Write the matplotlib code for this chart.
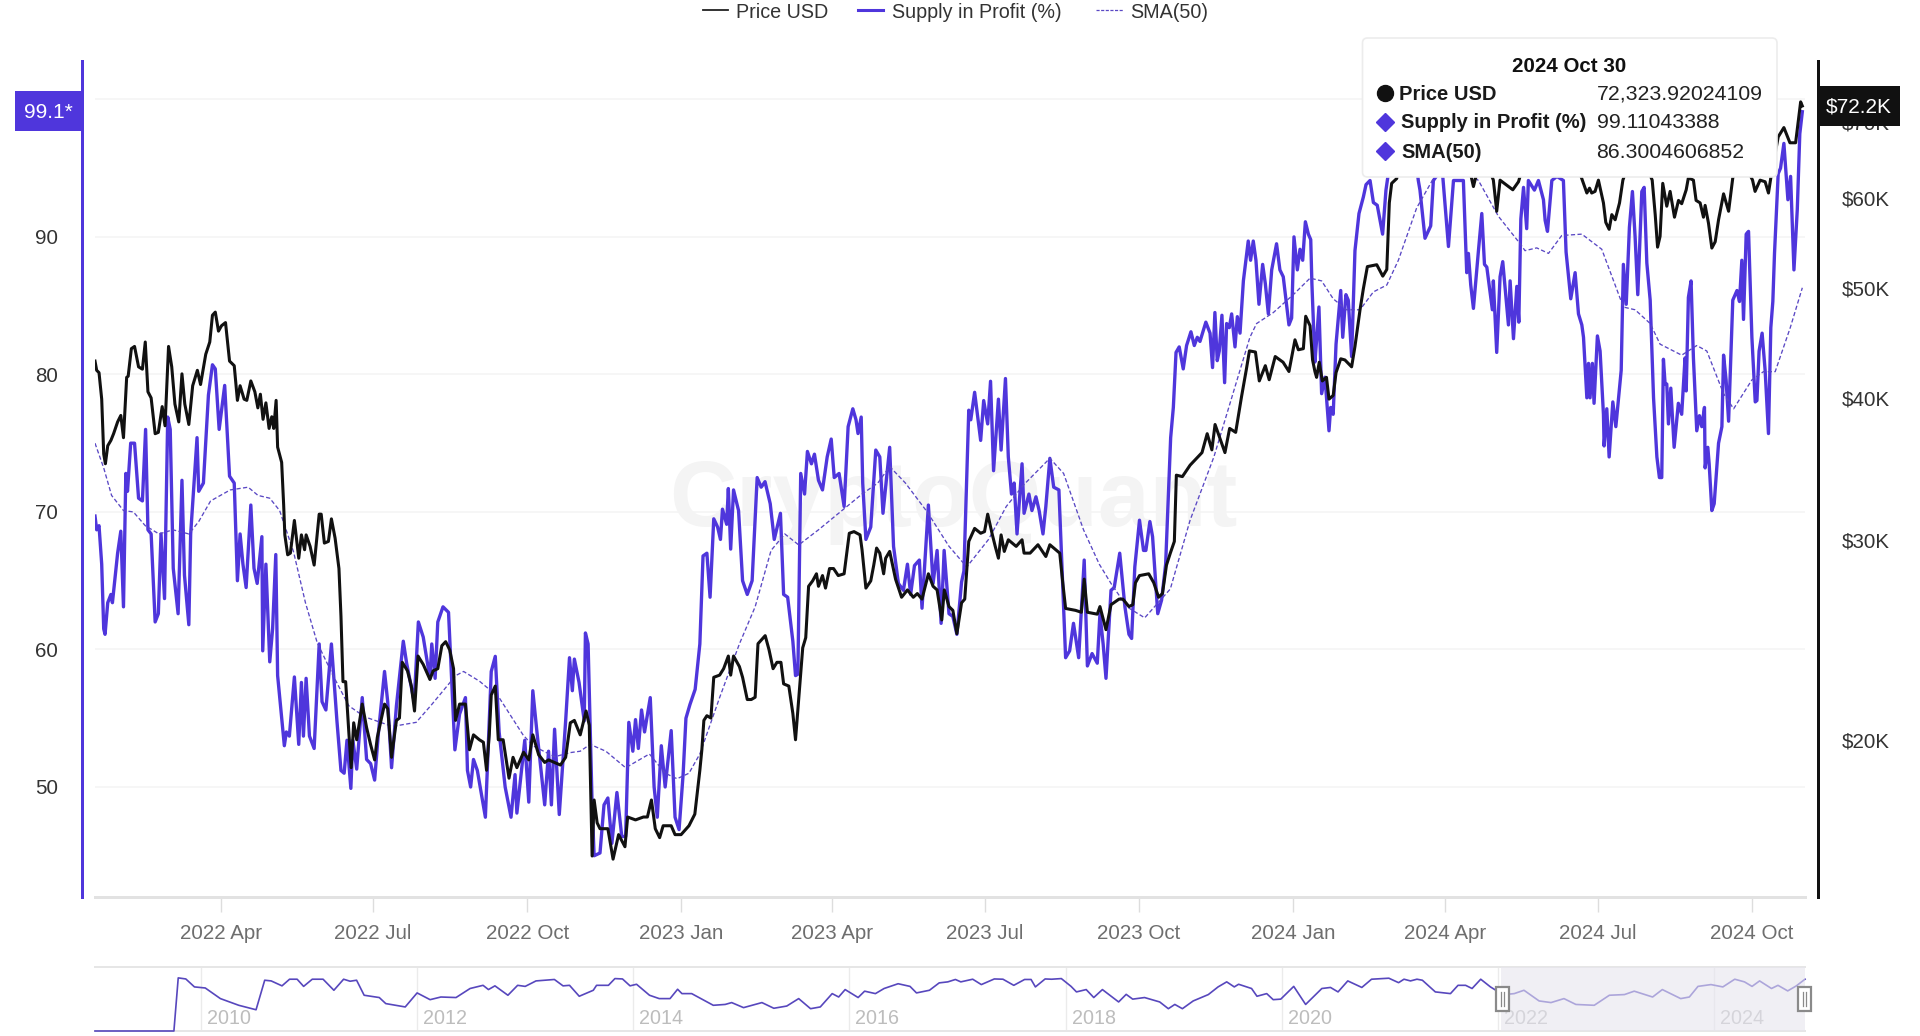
import numpy as np
import matplotlib
matplotlib.use('Agg')
import matplotlib.pyplot as plt
import matplotlib.dates as mdates
from matplotlib.lines import Line2D
from matplotlib.patches import FancyBboxPatch, Rectangle
from matplotlib.transforms import IdentityTransform

plt.rcParams['font.family'] = ['Liberation Sans', 'DejaVu Sans']

start_date = '2022-01-16'

profit_days = [0,1,2.4,4,5.2,6,7.6,9.5,10.4,13.5,15.4,17,18.4,19.4,21.3,23.6,26,28.3,30.2,31.6,33.5,35.9,37.8,39.4,41.5,43.4,44.9,46.7,49.6,51.9,53.4,56,57.1,60.9,61.9,64.7,67.7,70.1,71.8,74.1,77.4,80.3,83.1,85,86.6,88.3,90.2,93,94.9,96.8,99.6,100.1,102,104.3,106,107.9,109,113,114.2,116,119,121.6,123.2,124.4,126,128,130.8,133.8,135.5,137.8,141.1,144.4,146.8,148.7,150.4,152.7,153.9,156.2,159.5,162.1,164.5,166.9,169.2,172.8,174.7,177,179.9,184,186,190.5,193,195.9,199.9,201,203,204.6,207.7,211,214.8,217.6,221.1,222.3,224.2,225.9,228.2,233,236.5,238.9,241.2,244.8,248.3,250.7,251.8,256.5,258.9,261.3,263.6,268.4,270.7,272.4,274.3,277.1,280.9,283.2,284.9,286.1,288.9,292,292.7,294.3,296.7,297.9,301.4,303.8,306.1,308.5,311.5,314.4,316.7,318.6,321,322.6,324.3,326.2,328,331.4,333.7,335.6,338,340.3,343.9,346.2,348.6,351,352.7,355.1,358.2,361,362.9,365.2,367.1,369.3,371.6,373.3,374.5,377,378,379.4,381.1,384.1,386.5,389.3,392.2,395.2,397.6,399.9,403,405.4,409.1,411,413.4,416.5,418.1,419.5,421.2,423.5,425.2,427.6,429.4,431.8,434.2,437,439.4,441.2,444.1,447.1,449.5,452.3,454.2,455.4,457.3,458.2,460.1,463,466,468.4,470.3,474.3,476.6,479.5,482.5,484.9,486.8,489.1,492,493.6,497.4,500.2,502.6,505,506.8,509.7,512,514.4,517.2,518.6,521.5,522.7,525,528.6,530.4,532.8,534.5,536.3,539.2,540.8,543.4,545.1,547,548.6,550.3,553.3,554.5,557.4,559.2,561.6,563.5,565.8,567.5,569.9,572.2,575.3,579.3,581.7,584,587.1,590.4,592.3,595.1,598.2,599.8,601.7,603.4,606.4,608.3,611.6,614.7,617.1,618.7,620.6,623.4,625.8,627.2,629.6,631.2,634.3,636.6,639,642,643.6,645.2,647.1,649.5,651.5,654.1,656.1,657.9,659.5,663,665.5,667,668.4,669.8,671,672.6,674.2,675.4,677,678.4,680.4,681.8,683.4,685.4,688.3,689.7,691.3,692.9,694.7,696.9,698.5,700.3,702.3,705.2,707.2,709.2,712.6,714.2,715.6,717.6,719.2,720.8,722.4,724.2,725.6,726.3,728.1,729.1,730.5,732.1,734.1,736.5,737.5,739,740.7,743.5,744.7,746.6,748,750,752,754.4,757,758.6,761,763,765.3,768.5,770.5,771.9,780,786,789.8,790.8,793.8,797.2,798.8,804,807.8,810.8,816.7,818.7,819.7,821.1,822.7,825.7,827.7,829.3,830.7,832.7,834,834.6,836.6,838.6,840.2,843.6,844.6,846.6,848.6,849.8,851,852.6,854.5,855.5,859.1,861.5,864.5,865.5,866.9,869.5,872.5,876.4,878,880.8,883.4,885.4,887.4,888.4,890.4,891.4,892.3,893.7,894.7,896.7,898.3,900.3,900.7,902.3,903.7,905.9,907.7,910.9,912.2,913.9,915.8,917.6,919.2,920.8,923.2,924.6,926.2,928.2,930.2,932.2,933.7,935.1,936.1,937.1,938.1,939.1,940.5,942.5,945,947,949,949.7,951,952.6,954,956,957.6,959,960.6,961,962.6,963.4,965,966.4,969,971,972,973.5,975,977.5,980,981.5,982.9,983.9,985.5,986.9,988.9,990.9,991.9,993.2,995,996.8,998.8,1000.2,1001.4,1002.4,1004.6,1006,1008,1010.4,1012,1014,1016,1017.5,1019]
profit_vals = [69.7,68.7,69,66.2,61.5,61.1,63.4,64,63.4,67,68.6,63.1,72.8,71.5,75,75,71,70.8,76,68.7,68.4,62,62.6,68.4,63.7,76.9,76,65.9,62.6,72.3,65.4,61.8,68.4,75.4,71.5,72.1,78.5,80.7,80.4,76,79.2,72.6,72.1,65,68.4,66.2,64.5,70.5,65.9,64.8,68.2,59.9,66.2,59.1,61.5,66.9,58.1,53,54,53.7,58,53.1,57.6,53.7,57.9,53.7,52.8,60.4,56.2,55.6,60.4,54.8,51.2,51,53.4,49.9,53.4,51.3,56.5,52,51.7,50.5,54,58.4,56.2,51.4,55.9,60.6,59,56.2,62,60.9,57.9,60.4,57.9,62,63.1,62.7,52.7,55.3,56.5,51.2,50,52,51.2,47.8,58.4,59.5,54,50,47.8,50.9,48.1,53.4,48.9,57,54.2,48.7,52.6,48.7,54.2,48,54.8,59.4,57,59.3,57.6,54.8,61.2,60.4,48.7,45,45.2,48.7,49.2,45.9,49.6,46.4,46.4,54.7,52.6,54.9,52.8,55.6,54,56.5,50,47.8,53,50,54.1,47.8,46.9,50.9,55,56,57.1,60.4,66.8,67,63.8,69.5,68.9,68,70.2,69.1,71.7,67.3,71.6,70.1,65,64,65,72.5,71.8,72.2,70.6,68,69.9,64,63.8,60.6,58.1,58.2,72.8,71.3,74.4,73.5,74.2,72.3,71.6,74,75.3,72.5,72.8,70.4,76.2,77.5,76.7,75.7,76.9,72.1,68,68.9,74.5,74,69.9,74.7,67.5,64.8,64.3,66.2,64,66.1,66.5,63,70.5,64.8,67.2,61.9,67.2,62.6,62.4,61.1,64.9,65.7,77.4,76.7,78.7,75.2,78.1,76.4,79.5,73,78.2,74.5,79.7,74,71.3,72.1,68.4,73.5,69.9,71.3,70.1,71.1,70.1,68.4,70.4,73.9,71.8,71.6,59.4,59.9,61.9,59.4,66.5,58.8,59.7,59,62.6,60.4,57.9,64.3,64.5,67,63.1,61.1,60.8,66,69.4,67.2,67.2,69.3,68.2,62.6,63.6,66.2,75.4,77.6,81.6,82,80.4,82.1,83.1,82.1,82.7,82.4,83.8,83,80.5,84.5,81,81.7,84.3,79.4,83.7,83.4,84.4,82,84.2,83,86.8,89.7,88.3,89.7,88.3,85.1,88,86.6,84.4,87.6,89.5,87.6,87.1,83.6,84.1,90,87.6,89.1,88.3,91.1,90.2,89.8,86.6,80.9,82.5,84.9,78.6,79.8,75.9,77.6,77.1,82.2,86.1,82.7,85.8,85.4,81.3,89,91.7,92.9,93.8,94.1,92.5,92.3,90.2,93.4,94.6,97,98,94.1,93.4,89.9,90.8,94.1,95,89.3,94.1,94.1,87.4,88.8,86.5,84.8,89,91.7,88,87.8,85.9,84.7,86.8,81.6,87.1,88.2,83.6,86.8,82.6,86.4,83.8,91.3,93.6,90.6,94.1,93.4,94.1,92.7,91.2,90.4,94.1,94.4,94.1,88.9,85.5,87.4,84.4,83.6,82.7,78.3,80.8,78.3,80.8,77.9,82.8,81.7,77.1,74.8,77.5,74,78,76.2,80.3,88,85.1,90.7,93.3,90,85.8,93.3,93.6,88.1,85.4,78.3,74,72.5,72.5,81.1,79.3,79.3,76.4,79,74.7,77.9,77.1,81.2,78.8,85.6,86.8,81.2,75.9,77,76.2,77.6,73.2,74.7,73.5,70.1,70.6,75,76.2,81.4,79.6,76.6,85.4,86.1,85.3,88.3,84,90.2,90.4,82.7,78,78.1,81.7,83,80.3,75.7,83.4,85.3,88.8,94.6,95,96.8,92.7,94.4,87.6,92,97.5,99.1]

price_days = [0,1,2.4,4,5.2,6.2,7.6,9.5,11.1,13.5,15.4,17,18.9,19.8,21.7,23.6,26,28.3,30,31.6,33.5,35.9,37.8,40.1,41.8,43.9,45.8,47.7,50,51.9,53.6,56,58.3,61.1,63,66.1,68.5,70.1,71.8,73.7,75.5,77.9,80.3,83.1,85,86.6,89,90.6,93,95.4,97.2,98.7,100.3,102,103.9,105.5,106.7,108.1,109,111.4,112.6,113.3,115,116.6,119,121.6,123.2,125.1,126,128.4,130.8,133.8,135,136.9,139.3,141.1,143.3,145.6,146.8,148,149.6,151.5,152.9,154.4,156.2,159.5,162.1,164.5,166.9,168.5,172.8,174.7,177,179.9,181.7,183.4,186.5,188.8,190.7,192.8,195.9,199.9,201.8,204.6,207,209.3,211.7,214,215.2,217.6,221.1,223.5,225.9,229.4,231.8,233.7,235.3,236.5,238.9,240.7,243.6,247.1,249.5,251.8,255.8,258.9,261.3,264.8,268.4,270.7,274.3,277.8,280.9,283.7,286.1,289.6,293.1,295,296.7,297.9,299.7,301.4,306.1,309.2,312.5,316.3,317.9,322.6,327.3,329.7,332.1,334.4,337,339.1,343.9,346.2,349.8,354.5,358,361,362.2,363.4,365.2,367.6,369.3,372.8,375.2,378,379.4,381.1,384.6,386.5,389.3,391.7,394,395.7,400,402.3,404.7,407,409.4,411,414.1,416.5,418.1,420,422.4,424.2,425.9,428.3,430.6,431.8,434.2,436,438.4,440.8,443.6,447.1,450.2,453,456.6,457.8,460.1,463,464.8,466.5,468.4,470.7,471.9,474.3,477.8,481.4,484.9,488.4,490.8,493.6,497.4,500.2,502.6,505.4,506.9,509.7,512,514.4,517.2,519.1,521.5,525,528.6,530.9,532.8,535.6,537.3,539.2,540.8,542.7,545.1,549.8,553.3,554.5,558.1,562.8,567.5,569.9,575.8,577.6,579.3,585.2,588.7,590.4,592.3,598.2,599.8,603.4,606.4,611.2,613.5,617.1,619.4,621,623.4,628.9,631.9,634.8,637.1,639.5,641.8,644.2,645.4,649,653.6,658.4,660.7,663.8,666.6,668.5,671.3,674.4,677.2,680.8,684.3,687.2,689,692.6,694.9,698.5,700.8,704.4,709.1,712.6,716.2,718.2,721.2,722.6,725.2,726.7,728.1,729.1,730.7,732.5,735,736.5,739,740.7,743.5,746,750,752,755,757,759.4,765,768.6,771,772.5,773.9,776.9,780,787,795,805,815,822.7,828,834.6,836.6,838.6,843.6,846.2,849.6,855,870,880,890.4,892,893.3,895.3,897.3,900.3,901.7,903.7,905.3,907.3,909.9,911.9,918,924,929.4,931.2,932.6,934.1,935.7,938.1,940.1,942.7,945.1,947,949.7,951,954,955.6,958,960,961,963,965,967,969,972,975,977.5,983,989.3,990.8,993.8,996.8,998.8,1000.2,1004.6,1008,1011.6,1015,1018,1019]
price_usd_k = [43.1,42.3,42.1,39.9,35.7,35,36.3,36.7,37.2,38.1,38.6,36.9,41.7,41.8,44.2,44.4,42.6,42.4,44.8,40.5,40,37.2,37.3,39.3,37.8,44.4,42.6,39.5,38.1,42,39.5,37.9,41,42.3,41.1,43.7,44.8,47.3,47.6,45.8,46.3,46.6,43.1,42.7,39.8,41,39.9,39.8,41.4,40.5,39.2,40.3,38.3,39.6,37.6,38.5,37.6,39.8,36.2,35.1,32.2,30.3,29.1,29.2,31.2,28.9,30.3,29.4,30.3,29.6,28.5,31.6,31.6,29.8,29.9,31.3,30.1,28.3,25.7,22.5,22.5,20.3,18.9,20.7,20,21.5,20.5,19.8,19.2,20.1,21.5,21.3,19.3,20.8,20.9,23.4,23,22.3,21.2,23.7,23.3,22.6,23,23.1,24.2,24.4,24,23.1,20.8,21.5,21.5,19.6,20.2,20,19.9,18.8,20.2,21.9,22.3,20,20,18.5,19.3,18.9,19.5,19.2,20.2,19.4,19.1,19.2,19.1,19,19.3,20.7,20.8,20.2,21.2,20.6,15.8,17.7,16.9,16.7,16.7,15.7,16.5,16.1,17.1,17,17.1,17.1,17.7,16.7,16.4,16.8,16.8,16.5,16.5,16.8,17.2,18.8,19.6,20.8,21,20.9,22.7,22.8,23.1,23.7,22.8,23.7,23.2,22.7,21.7,21.7,21.8,24.3,24.7,24,23.1,23.4,23.4,22.4,22.3,21.1,20,21.7,24.1,24.6,27.3,27.6,28,27.3,27.9,27.2,28.3,28.3,27.9,28,30.4,30.5,30.3,29.4,27.2,27.6,28.5,29.5,29.2,28,28.9,29.3,27.7,26.7,27.1,26.7,26.9,26.6,28,27.3,27.1,25.5,27.1,26.2,26,24.8,26.4,26.6,29.9,30.7,30.4,30.5,31.6,30.3,29.6,28.9,30.3,29.3,30,29.6,30,29.2,29.2,29.7,29,29.7,29.2,27.5,26.1,26,25.9,27.7,25.9,25.8,26.2,25,26.3,26.6,26.6,26.2,26.3,27.5,27.9,28,27.5,26.7,26.9,28.5,29.2,29.9,34.2,34.1,34.9,35.5,35.8,37.2,36,37.9,36.9,35.8,37.6,37.3,40.1,42.4,44,43.9,41.4,42.7,41.5,43.5,43,42.2,45,44.1,44.2,47.2,46.3,43.2,42.2,41.7,43,41.4,41.7,39.9,40.2,42.1,43.3,43.2,42.6,44.4,47.8,49.9,52.2,52.4,51.2,51.9,59.4,61.8,62.4,66,72,66,70,69,61.4,66,62.2,58.4,62.2,61.4,61,62,66,69,67,60.6,61.2,60.6,60.8,62.2,59.4,57.1,56.3,58,57.4,59.4,62.2,66,65,62.2,58,54.3,55.5,61.8,59,60.8,57.7,59.7,59.3,61,62.5,62.2,59.7,59.4,57.7,59.1,57,54.2,54.9,57.4,60.5,58.4,62.5,65,62.2,60.8,62.2,62,60.6,62.5,67.9,69.2,67.1,67.1,72.9,72.3]

sma_days = [0,5.2,9.9,17,22.9,30,38.2,46.5,56,61.9,69,80.7,91.4,97.3,104.3,110.2,118.5,125.6,132.6,142.1,151.5,161,177.5,191.7,201,215.3,220,229.4,241.2,255.4,261.3,274.3,283.7,289.6,295.5,304.9,316.7,330.9,340.3,347.4,354.5,361,372.8,384.6,394,403.5,411.7,420,431.8,444.8,457.8,467.2,474.3,483.7,496.7,509.7,520.3,533.3,543.9,554.5,569.9,578.1,590,599.4,606.4,615.9,626.5,641.8,653.6,667.8,680.4,689.3,693.3,703.3,715.2,725.2,732.1,739,747,755,763,771,777.9,788.8,800,812,825.7,837.6,850.6,853.5,860.5,867.5,875.4,887.4,899.3,912.2,919.2,928.2,934.1,947,956,962,972,978,988.9,995.8,1002.8,1011.8,1019]
sma_vals = [75,73.2,71.2,70.1,70,69,68.4,68.7,68.4,69.3,70.8,71.6,71.8,71.2,71,70.1,67.1,63.4,60.5,58.1,55.9,55.1,54.4,54.7,56,58.1,58.4,57.7,56.5,53.8,53,52.2,52.5,52.6,53.1,52.6,51.4,52.4,51,50.6,51,52.4,56.5,60.4,63.1,67.2,68.4,67.6,68.7,70,71.3,72.1,73.3,72.1,70,67.5,66,68,70.4,72,73.9,72.8,68.7,66.2,64.8,63.1,62.3,64.4,69.4,74,79.1,82.7,83.7,84.5,85.8,87,86.8,85.5,84.7,84.7,86,86.5,88.3,92.1,94.5,95.5,94.1,91.5,89.5,89,89.2,88.8,90.1,90.2,89.1,84.9,84.7,83.7,82.2,81.4,82.1,81.7,78.6,77.5,79.6,80.2,80.2,83.4,86.3]

# overview strip, full history
nav_years = [2009.02,2009.75,2009.79,2009.86,2009.94,2010.04,2010.18,2010.35,2010.51,2010.59,2010.65,2010.75,2010.82,2010.89,2010.95,2011.03,2011.13,2011.23,2011.32,2011.38,2011.44,2011.51,2011.65,2011.71,2011.89,2012,2012.12,2012.22,2012.36,2012.49,2012.61,2012.66,2012.72,2012.84,2012.93,2013,2013.1,2013.27,2013.35,2013.41,2013.5,2013.63,2013.66,2013.77,2013.83,2013.9,2013.97,2014.03,2014.15,2014.24,2014.34,2014.41,2014.45,2014.54,2014.74,2014.85,2014.91,2015.02,2015.19,2015.3,2015.42,2015.53,2015.64,2015.73,2015.84,2015.9,2015.96,2016.08,2016.14,2016.24,2016.32,2016.45,2016.56,2016.62,2016.74,2016.83,2016.91,2016.98,2017.03,2017.14,2017.22,2017.34,2017.42,2017.52,2017.62,2017.68,2017.72,2017.81,2017.87,2017.96,2018.05,2018.1,2018.19,2018.26,2018.34,2018.49,2018.56,2018.62,2018.73,2018.87,2018.95,2019.01,2019.08,2019.18,2019.32,2019.41,2019.49,2019.56,2019.6,2019.72,2019.77,2019.86,2019.92,2019.99,2020.11,2020.22,2020.37,2020.45,2020.52,2020.61,2020.74,2020.83,2020.99,2021.08,2021.13,2021.19,2021.25,2021.3,2021.42,2021.56,2021.63,2021.7,2021.76,2021.84,2021.93,2021.98,2022.08,2022.15,2022.24,2022.38,2022.49,2022.61,2022.72,2022.89,2023.03,2023.17,2023.26,2023.43,2023.52,2023.69,2023.77,2023.85,2023.97,2024.08,2024.19,2024.28,2024.35,2024.42,2024.53,2024.59,2024.68,2024.76,2024.84]
nav_vals = [0,0,100,98,83,81,61,48.4,40,95.6,94.3,85,97.5,97.5,84,97.5,97.5,76.7,97.5,93.7,95.6,67.3,63,51.6,45.3,71.7,59,64,63,80,86,78,85,67.3,86,84,94.3,97,85,86,65.4,76.7,86,86,98.7,98,85,88,67.3,61,61,78.6,70.4,70.4,48.4,50,53.5,44,53.5,42.8,47,61,42,45.3,70.4,64,78,63,75,70.4,80,89,84,71.7,76.7,90.6,92.5,97,92.5,97.5,87.4,98,97.5,86,97,97,83,98,97.5,98.7,84,73.6,78,63,78,54.7,69,60,63,54.7,42,50,42,56.6,68.6,83,92.5,83,88,80,65.4,70.4,59,60,84,50,80,82,73.6,94.3,82,97.5,99.4,91,97.5,94.3,97.5,95.6,73.6,70.4,86,86,80,97.5,83,76.7,69,70.4,76.7,56.6,53.5,61,50,48.4,67.3,68.6,75,64,78,61,64,84,87.4,83,97.5,92.5,84,94.3,80,86,75.5,85,97.5]

date_ticks = ['2022-04-01','2022-07-01','2022-10-01','2023-01-01','2023-04-01','2023-07-01','2023-10-01','2024-01-01','2024-04-01','2024-07-01','2024-10-01']
date_labels = ['2022 Apr','2022 Jul','2022 Oct','2023 Jan','2023 Apr','2023 Jul','2023 Oct','2024 Jan','2024 Apr','2024 Jul','2024 Oct']
left_ticks = [50,60,70,80,90]
grid_levels = [50,60,70,80,90,100]
right_ticks = [20,30,40,50,60,70]
nav_ticks = [2010,2012,2014,2016,2018,2020,2022,2024]

BLUE = '#4f36dc'
W, H = 1920, 1036

def fx(x):
    return x / W

def fy(y):
    return 1 - y / H

def box(x0, y0, x1, y1):
    return [x0 / W, 1 - y1 / H, (x1 - x0) / W, (y1 - y0) / H]

def px(n):
    return n * 0.72

fig = plt.figure(figsize=(19.2, 10.36), dpi=100, facecolor='white')
ax = fig.add_axes(box(95, 61, 1805, 897))
ax2 = ax.twinx()

t0 = mdates.datestr2num(start_date)
ax.plot(t0 + np.array(profit_days), profit_vals, color=BLUE, lw=2.4, solid_joinstyle='round', zorder=3)
ax.plot(t0 + np.array(sma_days), sma_vals, color='#5a48c4', lw=0.95, ls=(0, (3.2, 1.8)), zorder=4)
ax2.plot(t0 + np.array(price_days), price_usd_k, color='#111111', lw=2.2, solid_joinstyle='round', zorder=3)

ax.set_xlim(t0, t0 + 1020.6)
ax.set_ylim(42.0, 102.79)
ax2.set_yscale('log')
ax2.set_ylim(14.54, 79.2)

ax.set_xticks([mdates.datestr2num(d) for d in date_ticks])
ax.set_xticklabels(date_labels)
ax.tick_params(axis='x', length=px(15), width=1, color='#dddddd', pad=px(12), labelsize=14.8, labelcolor='#6e6e6e')
ax.set_yticks(grid_levels)
ax.set_yticklabels([str(v) if v in left_ticks else '' for v in grid_levels])
ax.tick_params(axis='y', length=0, pad=px(24), labelsize=14.8, labelcolor='#333333')
ax.grid(axis='y', color='#f5f5f5', lw=1.2)
ax.set_axisbelow(True)

ax2.set_yticks(right_ticks)
ax2.set_yticklabels(['$%dK' % v for v in right_ticks])
ax2.minorticks_off()
ax2.tick_params(axis='y', which='both', length=0, pad=px(24), labelsize=14.8, labelcolor='#333333')

for a in (ax, ax2):
    a.spines['top'].set_visible(False)
    a.spines['bottom'].set_color('#e2e2e2')
    a.spines['bottom'].set_linewidth(px(3))
ax.spines['right'].set_visible(False)
ax.spines['left'].set_position(('outward', px(13)))
ax.spines['left'].set_color(BLUE)
ax.spines['left'].set_linewidth(px(3))
ax2.spines['left'].set_visible(False)
ax2.spines['right'].set_position(('outward', px(13)))
ax2.spines['right'].set_color('#111111')
ax2.spines['right'].set_linewidth(px(3))

ax.text(fx(953), fy(502), 'CryptoQuant', transform=fig.transFigure, fontsize=67, fontweight='bold',
        color='#f4f4f4', ha='center', va='center', zorder=1)

# value flags on the two axes
fig.add_artist(Rectangle((fx(15), fy(131)), (82 - 15) / W, 40 / H, transform=fig.transFigure, color=BLUE, lw=0))
fig.text(fx(48), fy(112), '99.1*', color='white', fontsize=15, ha='center', va='center')
fig.add_artist(Rectangle((fx(1818), fy(126)), 82 / W, 40 / H, transform=fig.transFigure, color='#111111', lw=0))
fig.text(fx(1859), fy(107), '$72.2K', color='white', fontsize=15, ha='center', va='center')

# legend row
legend_rows = [('Price USD', 703, 728, 736, '#222222', 1.3, '-'),
               ('Supply in Profit (%)', 858, 883, 891.5, BLUE, 2.2, '-'),
               ('SMA(50)', 1096, 1123, 1130, '#5a48c4', 0.9, (0, (2.5, 1.2)))]
for name, x0, x1, xt, col, lw, ls in legend_rows:
    fig.add_artist(Line2D([fx(x0), fx(x1)], [fy(10), fy(10)], color=col, lw=lw, ls=ls, transform=fig.transFigure))
    fig.text(fx(xt), fy(12), name, fontsize=14.2, color='#333333', va='center')

# tooltip
fig.add_artist(FancyBboxPatch((1366.5, H - 173), 406.5, 131, boxstyle='round,pad=4,rounding_size=5',
                              transform=IdentityTransform(), facecolor='white', edgecolor='#ececec', lw=1.2))
fig.text(fx(1569), fy(66), '2024 Oct 30', fontsize=14.8, fontweight='bold', color='#111111', ha='center', va='center')
tip_rows = [('Price USD', '72,323.92024109', 93, 'o', '#111111', 11.5, 1399),
            ('Supply in Profit (%)', '99.11043388', 122, 'D', BLUE, 9.2, 1401),
            ('SMA(50)', '86.3004606852', 151, 'D', BLUE, 9.2, 1401)]
for name, val, y, mk, col, ms, xt in tip_rows:
    fig.add_artist(Line2D([fx(1385)], [fy(y)], marker=mk, color=col, ms=ms, lw=0, transform=fig.transFigure))
    fig.text(fx(xt), fy(y + 1), name, fontsize=14.5, fontweight='bold', color='#1a1a1a', va='center')
    fig.text(fx(1596.5), fy(y + 1), val, fontsize=15.3, color='#222222', va='center')

# overview strip
nav = fig.add_axes(box(95, 967, 1805, 1031))
nav.plot(nav_years, nav_vals, color='#5747bd', lw=1.2, zorder=2.7, clip_on=False)
nav.set_xlim(2009.02, 2024.84)
nav.set_ylim(0, 120.5)
nav.set_xticks(nav_ticks)
nav.set_xticklabels([])
nav.set_yticks([])
nav.tick_params(axis='x', length=0)
nav.grid(axis='x', color='#ebebeb', lw=1)
nav.set_axisbelow(True)
for side in ('left', 'right'):
    nav.spines[side].set_visible(False)
for side in ('top', 'bottom'):
    nav.spines[side].set_color('#e6e6e6')
    nav.spines[side].set_linewidth(px(2))
for yr in nav_ticks:
    nav.annotate(str(yr), (yr, 0), xytext=(px(6), px(12.5)), textcoords='offset points',
                 fontsize=14.2, color='#bdbdbd', va='center', ha='left', zorder=1)
nav.axvspan(2022.03, 2024.84, facecolor='#e6e5ee', alpha=0.6, lw=0, zorder=3)
for yr in (2022.04, 2024.83):
    xc = 200.9 + (yr - 2010) * 108.1
    fig.add_artist(Rectangle((fx(xc - 6.5), fy(1011)), 13 / W, 24 / H, transform=fig.transFigure,
                             facecolor='white', edgecolor='#8a8a8a', lw=1.6))
    for dx in (-1.5, 1.5):
        fig.add_artist(Line2D([fx(xc + dx)] * 2, [fy(992), fy(1006)], color='#8a8a8a', lw=0.9, transform=fig.transFigure))

fig.savefig('out.png', dpi=100)
